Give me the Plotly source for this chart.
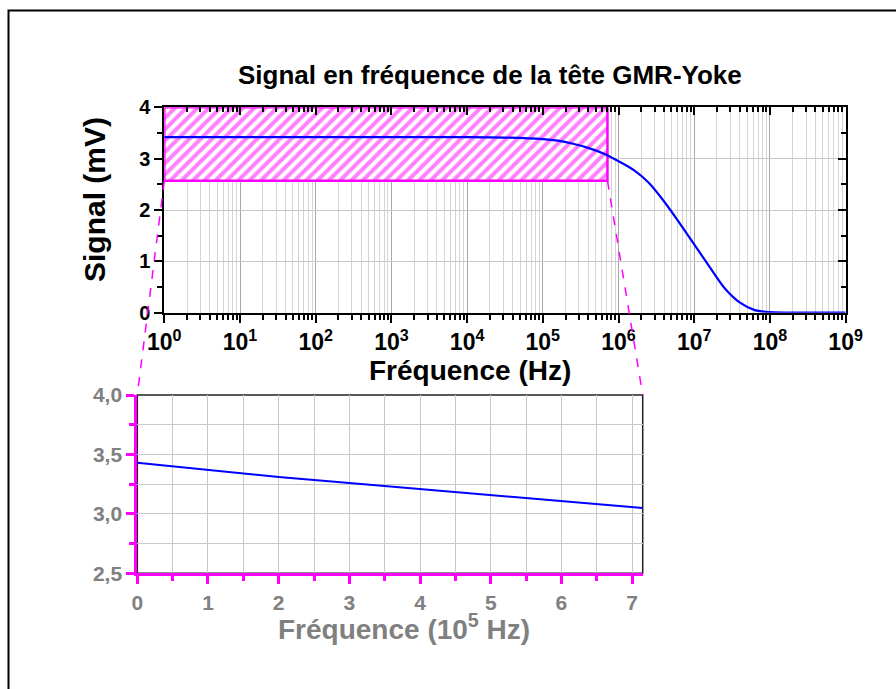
import plotly.graph_objects as go
import math

# ---------------- data ----------------
freq_hz = [1, 10, 100, 1e3, 1e4, 3.16e4, 1e5, 1.58e5, 2.51e5, 3.98e5, 6.31e5, 1e6, 1.58e6, 2.51e6,
           3.98e6, 6.31e6, 1e7, 1.58e7, 2.51e7, 3.98e7, 6.31e7, 1e8, 3.16e8, 1e9]
signal_mv = [3.42, 3.42, 3.42, 3.42, 3.42, 3.41, 3.38, 3.35, 3.29, 3.21, 3.10, 2.95, 2.78, 2.53,
             2.17, 1.76, 1.33, 0.90, 0.48, 0.20, 0.05, 0.01, 0.0, 0.0]

zoom_freq_1e5 = [0, 1, 2, 3, 4, 5, 6, 7, 7.15]
zoom_signal = [3.43, 3.37, 3.31, 3.26, 3.21, 3.16, 3.11, 3.06, 3.05]

zoom_x_range = [0, 7.15]
zoom_y_range = [2.5, 4.0]

main_x_ticks = [10 ** k for k in range(0, 10)]
main_x_ticktext = ["10<sup>%d</sup>" % k for k in range(0, 10)]
main_y_ticks = [0, 1, 2, 3, 4]
zoom_x_ticks = [0, 1, 2, 3, 4, 5, 6, 7]
zoom_y_ticks = [2.5, 3.0, 3.5, 4.0]
zoom_y_ticktext = ["2,5", "3,0", "3,5", "4,0"]

title_text = "Signal en fréquence de la tête GMR-Yoke"
main_xtitle = "Fréquence (Hz)"
main_ytitle = "Signal (mV)"
zoom_xtitle = "Fréquence (10<sup>5</sup> Hz)"

# ---------------- layout geometry ----------------
W, H = 896, 689
main_dom_x = [164.3 / W, 845.6 / W]
main_dom_y = [1 - 312.7 / H, 1 - 107.3 / H]
zoom_dom_x = [137.3 / W, 642.7 / W]
zoom_dom_y = [1 - 573.3 / H, 1 - 395.0 / H]

FONT = "Arial, Liberation Sans, sans-serif"
MAG = "#ff00ff"
GRAY = "#808080"

minor_log = [m * 10 ** k for k in range(0, 9) for m in range(2, 10)]

# zoom region in main-plot coordinates
rect_x0 = 1.0
rect_x1 = zoom_x_range[1] * 1e5
rect_y0 = 2.57
rect_y1 = 4.0

fig = go.Figure()

# hatched zoom region on main plot
fig.add_trace(go.Scatter(
    x=[rect_x0, rect_x1, rect_x1, rect_x0, rect_x0],
    y=[rect_y0, rect_y0, rect_y1, rect_y1, rect_y0],
    mode="lines", fill="toself",
    line=dict(color=MAG, width=2.5),
    fillcolor="rgba(255,255,255,0)",
    fillpattern=dict(shape="/", fgcolor=MAG, bgcolor="white", size=8, solidity=0.5),
    xaxis="x", yaxis="y", hoverinfo="skip", showlegend=False))

# main curve (on overlay axes so they render, drawn on top of hatch)
fig.add_trace(go.Scatter(
    x=freq_hz, y=signal_mv, mode="lines",
    line=dict(color="#0000ff", width=2.2, shape="spline", smoothing=0.8),
    xaxis="x2", yaxis="y2", showlegend=False))

# inset curve
fig.add_trace(go.Scatter(
    x=zoom_freq_1e5, y=zoom_signal, mode="lines", line=dict(color="#0000ff", width=2),
    xaxis="x3", yaxis="y3", showlegend=False))

tick_font_main_x = dict(family=FONT, size=23, color="black", weight="bold")
tick_font_main_y = dict(family=FONT, size=20, color="black", weight="bold")

fig.update_layout(
    width=W, height=H, autosize=False,
    margin=dict(l=0, r=0, t=0, b=0, pad=0),
    paper_bgcolor="white", plot_bgcolor="white",
    showlegend=False,
    xaxis=dict(
        domain=main_dom_x, anchor="y", type="log", range=[0, 9], automargin=False,
        tickvals=main_x_ticks, ticktext=main_x_ticktext, tickfont=tick_font_main_x,
        ticks="outside", ticklen=8, tickwidth=2, tickcolor="black",
        showline=True, linecolor="black", linewidth=2,
        showgrid=True, gridcolor="#a8a8a8", gridwidth=1,
        minor=dict(tickvals=minor_log, ticks="outside", ticklen=5, tickwidth=1.5, tickcolor="black",
                   showgrid=True, gridcolor="#d4d4d4", gridwidth=1),
        zeroline=False),
    yaxis=dict(
        domain=main_dom_y, anchor="x", range=[0, 4], automargin=False,
        tickvals=main_y_ticks, tickfont=tick_font_main_y,
        ticks="outside", ticklen=8, tickwidth=2, tickcolor="black",
        showline=True, linecolor="black", linewidth=2,
        showgrid=True, gridcolor="#c8c8c8", gridwidth=1,
        minor=dict(dtick=0.5, tick0=0, ticks="outside", ticklen=5, tickwidth=1.5, tickcolor="black", showgrid=False),
        zeroline=False),
    xaxis2=dict(
        overlaying="x", anchor="y2", side="top", type="log", range=[0, 9], automargin=False,
        tickvals=main_x_ticks, showticklabels=False,
        ticks="inside", ticklen=8, tickwidth=2, tickcolor="black",
        showline=True, linecolor="black", linewidth=2, showgrid=False,
        minor=dict(tickvals=minor_log, ticks="inside", ticklen=5, tickwidth=1.5, tickcolor="black", showgrid=False),
        zeroline=False),
    yaxis2=dict(
        overlaying="y", anchor="x2", side="right", range=[0, 4], automargin=False,
        tickvals=main_y_ticks, showticklabels=False,
        ticks="inside", ticklen=8, tickwidth=2, tickcolor="black",
        showline=True, linecolor="black", linewidth=2, showgrid=False,
        minor=dict(dtick=0.5, tick0=0, ticks="inside", ticklen=5, tickwidth=1.5, tickcolor="black", showgrid=False),
        zeroline=False),
    xaxis3=dict(
        domain=zoom_dom_x, anchor="y3", range=zoom_x_range, automargin=False,
        tickvals=zoom_x_ticks, tickfont=dict(family=FONT, size=21, color=GRAY, weight="bold"),
        ticks="outside", ticklen=8, tickwidth=3, tickcolor=MAG,
        showline=True, linecolor=MAG, linewidth=3,
        showgrid=True, gridcolor="#c8c8c8", gridwidth=1,
        minor=dict(dtick=0.5, tick0=0, ticks="outside", ticklen=5, tickwidth=3, tickcolor=MAG,
                   showgrid=True, gridcolor="#c8c8c8", gridwidth=1),
        zeroline=False),
    yaxis3=dict(
        domain=zoom_dom_y, anchor="x3", range=zoom_y_range, automargin=False,
        tickvals=zoom_y_ticks, ticktext=zoom_y_ticktext,
        tickfont=dict(family=FONT, size=21, color=GRAY, weight="bold"),
        ticks="outside", ticklen=8, tickwidth=3, tickcolor=MAG,
        showline=True, linecolor=MAG, linewidth=3,
        showgrid=True, gridcolor="#c8c8c8", gridwidth=1,
        minor=dict(dtick=0.25, tick0=2.5, ticks="outside", ticklen=5, tickwidth=3, tickcolor=MAG,
                   showgrid=True, gridcolor="#c8c8c8", gridwidth=1),
        zeroline=False),
)

# paper coordinates of the zoom rectangle corners (from axis domains and ranges)
def main_px(xv):
    return main_dom_x[0] + (math.log10(xv) - 0) / 9 * (main_dom_x[1] - main_dom_x[0])

def main_py(yv):
    return main_dom_y[0] + yv / 4 * (main_dom_y[1] - main_dom_y[0])

shapes = [
    # outer frame
    dict(type="rect", xref="paper", yref="paper", x0=8.5 / W, y0=-0.2, x1=1.2, y1=1 - 10.5 / H,
         line=dict(color="black", width=2), fillcolor="rgba(0,0,0,0)", layer="above"),
    # inset frame (top/right dark)
    dict(type="rect", xref="x3 domain", yref="y3 domain", x0=0, y0=0, x1=1, y1=1,
         line=dict(color="#222222", width=1.5), layer="below"),
    # dashed connectors
    dict(type="line", xref="paper", yref="paper",
         x0=main_px(rect_x0), y0=main_py(rect_y0), x1=zoom_dom_x[0], y1=zoom_dom_y[1],
         line=dict(color=MAG, width=1.5, dash="dash")),
    dict(type="line", xref="paper", yref="paper",
         x0=main_px(rect_x1), y0=main_py(rect_y0), x1=zoom_dom_x[1], y1=zoom_dom_y[1],
         line=dict(color=MAG, width=1.5, dash="dash")),
]
fig.update_layout(shapes=shapes)

annotations = [
    dict(text=title_text, xref="paper", yref="paper", x=490 / W, y=1 - 75 / H,
         xanchor="center", yanchor="middle", showarrow=False,
         font=dict(family=FONT, size=26, color="black", weight="bold")),
    dict(text=main_xtitle, xref="paper", yref="paper", x=470 / W, y=1 - 370 / H,
         xanchor="center", yanchor="middle", showarrow=False,
         font=dict(family=FONT, size=28, color="black", weight="bold")),
    dict(text=main_ytitle, xref="paper", yref="paper", x=94 / W, y=1 - 200 / H,
         xanchor="center", yanchor="middle", showarrow=False, textangle=-90,
         font=dict(family=FONT, size=30, color="black", weight="bold")),
    dict(text=zoom_xtitle, xref="paper", yref="paper", x=404 / W, y=1 - 627 / H,
         xanchor="center", yanchor="middle", showarrow=False,
         font=dict(family=FONT, size=28, color=GRAY, weight="bold")),
]
fig.update_layout(annotations=annotations)

fig.write_html("out.html", config={"displayModeBar": False},
               post_script="document.body.style.margin='0px';")
